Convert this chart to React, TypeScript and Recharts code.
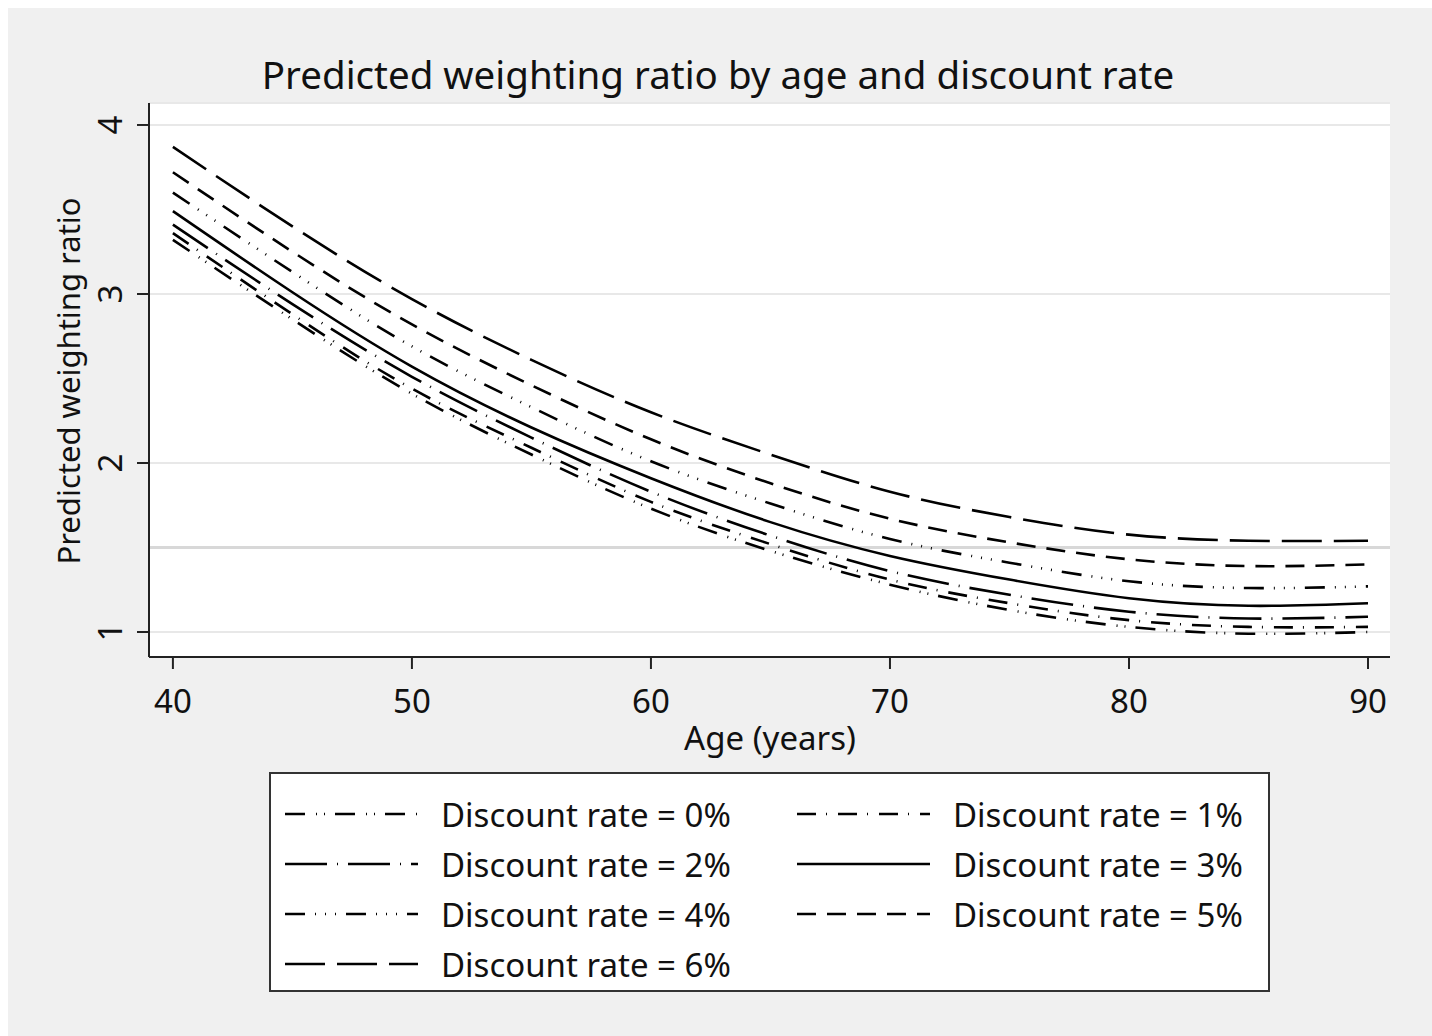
import React from 'react';
import { LineChart, Line, XAxis, YAxis, CartesianGrid, ReferenceLine } from 'recharts';

const ages = [40, 45, 50, 55, 60, 65, 70, 75, 80, 85, 90];
const rate0 = [3.32, 2.85, 2.41, 2.05, 1.73, 1.48, 1.28, 1.13, 1.03, 0.99, 1.0];
const rate1 = [3.36, 2.88, 2.44, 2.09, 1.77, 1.52, 1.31, 1.17, 1.07, 1.03, 1.03];
const rate2 = [3.41, 2.94, 2.51, 2.15, 1.83, 1.57, 1.36, 1.22, 1.12, 1.08, 1.09];
const rate3 = [3.49, 3.01, 2.57, 2.21, 1.91, 1.65, 1.45, 1.31, 1.2, 1.155, 1.17];
const rate4 = [3.6, 3.13, 2.69, 2.33, 2.01, 1.76, 1.55, 1.41, 1.3, 1.26, 1.27];
const rate5 = [3.72, 3.25, 2.82, 2.46, 2.14, 1.88, 1.67, 1.53, 1.43, 1.39, 1.4];
const rate6 = [3.87, 3.4, 2.97, 2.61, 2.3, 2.05, 1.83, 1.68, 1.576, 1.54, 1.54];

const seriesKeys = ['r0', 'r1', 'r2', 'r3', 'r4', 'r5', 'r6'];
const seriesNames = [
  'Discount rate = 0%',
  'Discount rate = 1%',
  'Discount rate = 2%',
  'Discount rate = 3%',
  'Discount rate = 4%',
  'Discount rate = 5%',
  'Discount rate = 6%',
];
const seriesValues = [rate0, rate1, rate2, rate3, rate4, rate5, rate6];
const dashes = [
  '20 11 1 7 1 10',
  '19 10 1 11',
  '42 10 1 10',
  undefined,
  '20 10 1 9 1 9 1 10',
  '19 11',
  '40 12',
];

const xTicks = [40, 50, 60, 70, 80, 90];
const yTicks = [1, 2, 3, 4];

const data = ages.map((a, i) => {
  const row: any = { age: a };
  seriesKeys.forEach((k, j) => {
    row[k] = seriesValues[j][i];
  });
  return row;
});

const FONT = '"Noto Sans", "Open Sans", sans-serif';
const W = 1424;
const H = 1028;

const XTick = (props: any) => {
  const { x, payload } = props;
  return (
    <text x={x} y={692} textAnchor="middle" dominantBaseline="central" fontSize={33} fontFamily={FONT} fill="#111">
      {payload.value}
    </text>
  );
};

const YTick = (props: any) => {
  const { y, payload } = props;
  const cx = 102;
  return (
    <text
      x={cx}
      y={y}
      transform={`rotate(-90, ${cx}, ${y})`}
      textAnchor="middle"
      dominantBaseline="central"
      fontSize={33}
      fontFamily={FONT}
      fill="#111"
    >
      {payload.value}
    </text>
  );
};

const legendOrder = [0, 1, 2, 3, 4, 5, 6];

const pageCss =
  'html{overflow:hidden;background:linear-gradient(to bottom,#fff 8px,transparent 8px),linear-gradient(to right,#fff 8px,#f0f0f0 8px);}';

export default function App() {
  return (
    <div style={{ position: 'relative', width: W, height: H, background: '#f0f0f0', fontFamily: FONT }}>
      <style>{pageCss}</style>
      <LineChart width={W} height={H} data={data} margin={{ top: 95, right: 42, left: 81, bottom: 319 }}>
        <CartesianGrid vertical={false} stroke="#e8e8e8" strokeWidth={2} fill="#ffffff" />
        <ReferenceLine y={1.5} stroke="#d8d8d8" strokeWidth={3} ifOverflow="extendDomain" />
        <XAxis
          dataKey="age"
          type="number"
          domain={[39, 90.92]}
          ticks={xTicks}
          allowDataOverflow
          height={60}
          tickSize={12}
          tick={<XTick />}
          axisLine={{ stroke: '#222', strokeWidth: 2 }}
          tickLine={{ stroke: '#222', strokeWidth: 2 }}
        />
        <YAxis
          type="number"
          domain={[0.852, 4.13]}
          ticks={yTicks}
          allowDataOverflow
          width={60}
          tickSize={12}
          tick={<YTick />}
          axisLine={{ stroke: '#222', strokeWidth: 2 }}
          tickLine={{ stroke: '#222', strokeWidth: 2 }}
        />
        {seriesKeys.map((k, j) => (
          <Line
            key={k}
            dataKey={k}
            name={seriesNames[j]}
            type="natural"
            stroke="#000"
            strokeWidth={2.6}
            strokeDasharray={dashes[j]}
            dot={false}
            activeDot={false}
            isAnimationActive={false}
          />
        ))}
      </LineChart>
      <svg width={W} height={H} style={{ position: 'absolute', left: 0, top: 0, pointerEvents: 'none' }}>
        <text x={710} y={66} textAnchor="middle" dominantBaseline="central" fontSize={38.5} fontFamily={FONT} fill="#111">
          Predicted weighting ratio by age and discount rate
        </text>
        <text x={762} y={729} textAnchor="middle" dominantBaseline="central" fontSize={33} fontFamily={FONT} fill="#111">
          Age (years)
        </text>
        <text
          x={60}
          y={373}
          transform="rotate(-90, 60, 373)"
          textAnchor="middle"
          dominantBaseline="central"
          fontSize={31}
          fontFamily={FONT}
          fill="#111"
        >
          Predicted weighting ratio
        </text>
      </svg>
      <div
        style={{
          position: 'absolute',
          left: 261,
          top: 764,
          width: 1001,
          height: 220,
          boxSizing: 'border-box',
          border: '2px solid #333',
          background: '#fff',
        }}
      >
        <svg width={997} height={216}>
          {legendOrder.map((j, idx) => {
            const col = idx % 2;
            const row = Math.floor(idx / 2);
            const x0 = 14 + col * 512;
            const cy = 40 + row * 50;
            return (
              <g key={j}>
                <line
                  x1={x0}
                  x2={x0 + 133}
                  y1={cy}
                  y2={cy}
                  stroke="#000"
                  strokeWidth={2.6}
                  strokeDasharray={dashes[j]}
                />
                <text x={x0 + 156} y={cy} dominantBaseline="central" fontSize={33} fontFamily={FONT} fill="#111">
                  {seriesNames[j]}
                </text>
              </g>
            );
          })}
        </svg>
      </div>
    </div>
  );
}
